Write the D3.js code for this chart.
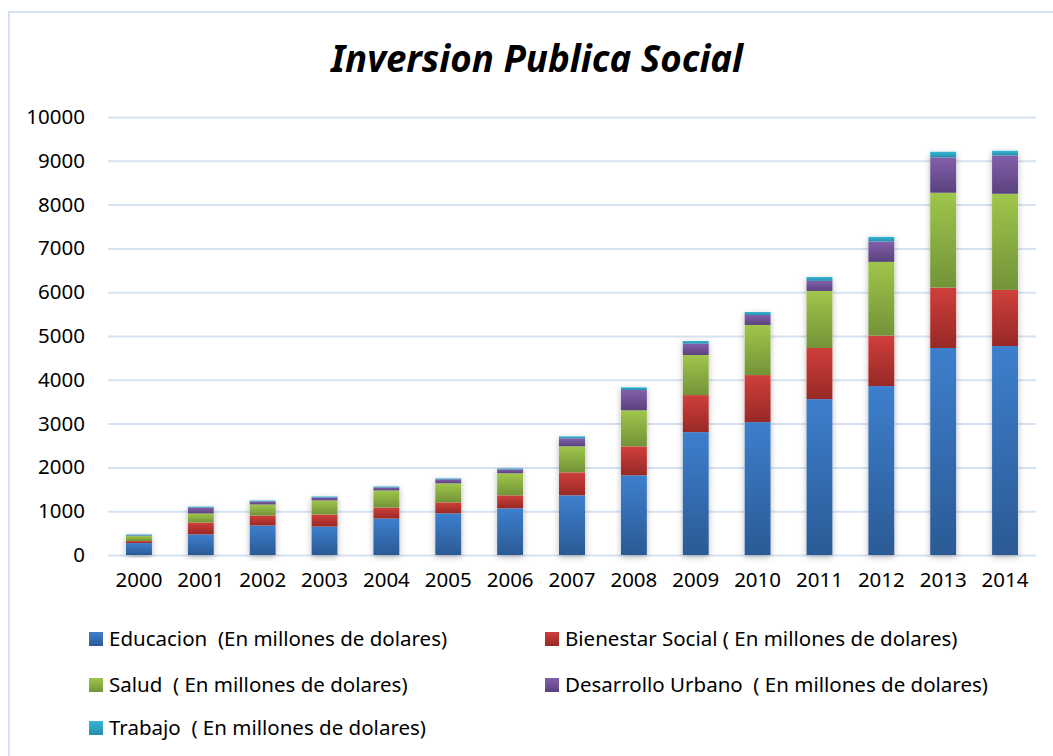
<!DOCTYPE html>
<html lang="es">
<head>
<meta charset="UTF-8">
<title>Inversion Publica Social</title>
<script src="https://cdn.jsdelivr.net/npm/d3@7"></script>
<style>
  body { margin: 0; background: #fff; }
  svg { display: block; font-family: "Noto Sans", "Open Sans", sans-serif; }
  .leyenda text { white-space: pre; }
</style>
</head>
<body>
<div id="grafica"></div>
<script>
// datos
anios = ['2000','2001','2002','2003','2004','2005','2006','2007','2008','2009','2010','2011','2012','2013','2014']
educacion  = [273, 470, 672, 649, 832, 951, 1065, 1362, 1819, 2805, 3034, 3559, 3857, 4726, 4771]
bienestar  = [45, 272, 229, 275, 252, 251, 297, 525, 662, 846, 1074, 1167, 1151, 1379, 1281]
salud      = [114, 205, 252, 321, 389, 434, 503, 594, 822, 915, 1144, 1303, 1684, 2165, 2195]
desarrollo = [15, 136, 69, 69, 69, 92, 91, 183, 464, 259, 228, 229, 465, 808, 876]
trabajo    = [23, 23, 23, 23, 23, 22, 23, 45, 61, 61, 69, 91, 107, 129, 107]
yTicks = [0, 1000, 2000, 3000, 4000, 5000, 6000, 7000, 8000, 9000, 10000]

series = [
  {key: 'educacion',  nombre: 'Educacion  (En millones de dolares)',          valores: educacion,  c1: '#3d7fcd', c2: '#2b5a95'},
  {key: 'bienestar',  nombre: 'Bienestar Social ( En millones de dolares)',   valores: bienestar,  c1: '#d03f3b', c2: '#972926'},
  {key: 'salud',      nombre: 'Salud  ( En millones de dolares)',             valores: salud,      c1: '#9fc64b', c2: '#739338'},
  {key: 'desarrollo', nombre: 'Desarrollo Urbano  ( En millones de dolares)', valores: desarrollo, c1: '#8260ab', c2: '#5a427d'},
  {key: 'trabajo',    nombre: 'Trabajo  ( En millones de dolares)',           valores: trabajo,    c1: '#37b6d9', c2: '#268ea8'}
]

ancho_total = 1053
alto_total = 756
margin = {left: 108, right: 17, top: 117, bottom: 201}
ancho = ancho_total - margin.left - margin.right
alto = alto_total - margin.top - margin.bottom

svg = d3.select('#grafica')
  .append('svg')
  .attr('width', ancho_total)
  .attr('height', alto_total)

defs = svg.append('defs')
series.forEach(s => {
  lg = defs.append('linearGradient')
    .attr('id', 'grad-' + s.key)
    .attr('x1', 0).attr('y1', 0).attr('x2', 0).attr('y2', 1)
  lg.append('stop').attr('offset', '0%').attr('stop-color', s.c1)
  lg.append('stop').attr('offset', '100%').attr('stop-color', s.c2)
})
sombra = defs.append('filter').attr('id', 'sombra')
  .attr('x', '-40%').attr('y', '-10%').attr('width', '180%').attr('height', '120%')
sombra.append('feDropShadow')
  .attr('dx', 0).attr('dy', 2).attr('stdDeviation', 3)
  .attr('flood-color', '#000').attr('flood-opacity', 0.28)

// marco
svg.append('path')
  .attr('d', `M9,${alto_total} V12 H${ancho_total}`)
  .attr('fill', 'none')
  .attr('stroke', '#d6e2f2')
  .attr('stroke-width', 2)

// titulo
svg.append('text')
  .attr('x', 537)
  .attr('y', 72)
  .attr('text-anchor', 'middle')
  .attr('font-size', 36.7)
  .attr('font-weight', 'bold')
  .attr('font-style', 'italic')
  .attr('fill', '#000')
  .text('Inversion Publica Social')

g = svg.append('g')
  .attr('transform', `translate(${margin.left},${margin.top})`)

x = d3.scaleBand()
  .domain(anios)
  .range([0, ancho])
  .paddingInner(0.58)
  .paddingOuter(0.29)

y = d3.scaleLinear()
  .domain([0, 10000])
  .range([alto, 0])

// lineas de cuadricula
yAxisCall = d3.axisLeft(y)
  .tickValues(yTicks)
  .tickSize(-ancho)
  .tickPadding(23)
  .tickFormat(d => d)

ejeY = g.append('g').call(yAxisCall)
ejeY.select('.domain').remove()
ejeY.selectAll('line').attr('stroke', '#d6e2f2').attr('stroke-width', 2)
ejeY.selectAll('text')
  .attr('font-size', 20.5)
  .attr('font-family', '"Noto Sans", sans-serif')
  .attr('fill', '#000')

xAxisCall = d3.axisBottom(x).tickSize(0).tickPadding(17)
ejeX = g.append('g')
  .attr('transform', `translate(0,${alto})`)
  .call(xAxisCall)
ejeX.select('.domain').remove()
ejeX.selectAll('text')
  .attr('font-size', 20.5)
  .attr('font-family', '"Noto Sans", sans-serif')
  .attr('fill', '#000')

// apilado
tabla = anios.map((a, i) => {
  fila = {anio: a}
  series.forEach(s => { fila[s.key] = s.valores[i] })
  return fila
})
stack = d3.stack().keys(series.map(s => s.key))
capas = stack(tabla)

// sombra de cada barra completa
g.append('g')
  .selectAll('rect')
  .data(tabla)
  .enter()
  .append('rect')
    .attr('x', d => x(d.anio))
    .attr('y', d => y(d3.sum(series, s => d[s.key])))
    .attr('width', x.bandwidth())
    .attr('height', d => alto - y(d3.sum(series, s => d[s.key])))
    .attr('fill', '#fff')
    .attr('filter', 'url(#sombra)')

g.append('g')
  .selectAll('g')
  .data(capas)
  .enter()
  .append('g')
    .attr('fill', d => 'url(#grad-' + d.key + ')')
  .selectAll('rect')
  .data(d => d)
  .enter()
  .append('rect')
    .attr('x', d => x(d.data.anio))
    .attr('y', d => y(d[1]))
    .attr('width', x.bandwidth())
    .attr('height', d => y(d[0]) - y(d[1]))

// leyenda
posLeyenda = [[89, 639], [545, 639], [89, 685], [545, 685], [89, 728]]
leyenda = svg.append('g')
  .attr('class', 'leyenda')
  .selectAll('g')
  .data(series)
  .enter()
  .append('g')
    .attr('transform', (d, i) => `translate(${posLeyenda[i][0]},${posLeyenda[i][1]})`)

leyenda.append('rect')
  .attr('x', 0)
  .attr('y', -7)
  .attr('width', 14)
  .attr('height', 14)
  .attr('fill', d => 'url(#grad-' + d.key + ')')

leyenda.append('text')
  .attr('x', 20)
  .attr('y', 0)
  .attr('dy', '0.35em')
  .attr('font-size', 20.5)
  .attr('fill', '#000')
  .text(d => d.nombre)
</script>
</body>
</html>
